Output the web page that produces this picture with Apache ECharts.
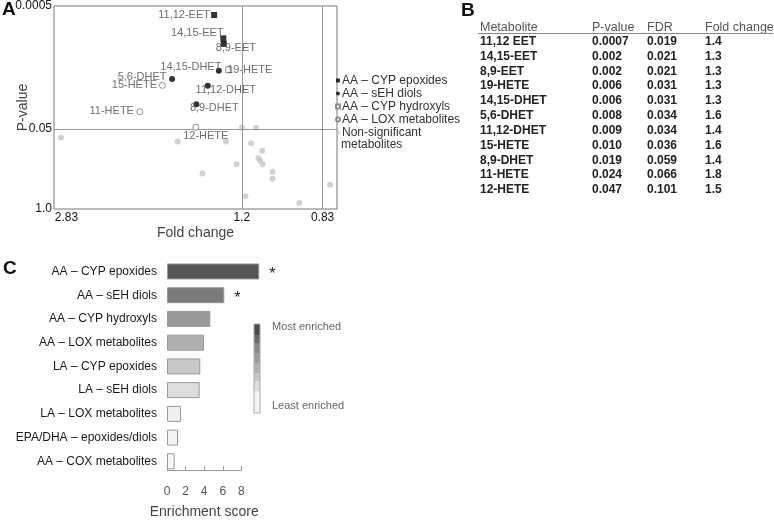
<!DOCTYPE html>
<html>
<head>
<meta charset="utf-8">
<script src="https://cdn.jsdelivr.net/npm/echarts@6/dist/echarts.min.js"></script>
<style>
  html, body { margin: 0; padding: 0; background: #fff; }
  #chart { width: 774px; height: 520px; }
</style>
</head>
<body>
<div id="chart"></div>
<script>
// ---- panel A data (fold change, p-value) ----
var epoxNames = ['11,12-EET', '14,15-EET', '8,9-EET'];
var epoxFold = [1.362, 1.306, 1.303];
var epoxP = [0.0007, 0.00168, 0.00207];

var diolNames = ['14,15-DHET', '5,6-DHET', '11,12-DHET', '8,9-DHET'];
var diolFold = [1.333, 1.650, 1.402, 1.477];
var diolP = [0.00565, 0.0077, 0.00986, 0.0198];

var hydroxNames = ['19-HETE'];
var hydroxFold = [1.274];
var hydroxP = [0.00545];

var loxNames = ['15-HETE', '11-HETE', '12-HETE'];
var loxFold = [1.725, 1.913, 1.481];
var loxP = [0.00975, 0.0263, 0.047];

var nsFold = [2.741, 1.608, 1.290, 1.199, 1.124, 1.150, 1.093, 1.112, 1.104, 1.091, 1.229, 1.043, 1.043, 1.437, 1.181, 0.923, 0.802];
var nsP = [0.069, 0.0797, 0.0797, 0.0476, 0.0476, 0.0851, 0.113, 0.149, 0.164, 0.187, 0.187, 0.249, 0.323, 0.264, 0.618, 0.796, 0.403];

var pCutoff = [0.05];
var foldCutoffs = [1.2, 0.83];
var foldTicks = [2.83, 1.2, 0.83];
var foldTickLabels = ['2.83', '1.2', '0.83'];
var pTicks = [0.0005, 0.05, 1.0];
var pTickLabels = ['0.0005', '0.05', '1.0'];

// ---- panel B table ----
var tblHead = ['Metabolite', 'P-value', 'FDR', 'Fold change'];
var tblMetabolite = ['11,12 EET', '14,15-EET', '8,9-EET', '19-HETE', '14,15-DHET', '5,6-DHET', '11,12-DHET', '15-HETE', '8,9-DHET', '11-HETE', '12-HETE'];
var tblP = ['0.0007', '0.002', '0.002', '0.006', '0.006', '0.008', '0.009', '0.010', '0.019', '0.024', '0.047'];
var tblFDR = ['0.019', '0.021', '0.021', '0.031', '0.031', '0.034', '0.034', '0.036', '0.059', '0.066', '0.101'];
var tblFC = ['1.4', '1.3', '1.3', '1.3', '1.3', '1.6', '1.4', '1.6', '1.4', '1.8', '1.5'];

// ---- panel C data ----
var enrichCats = ['AA \u2013 CYP epoxides', 'AA \u2013 sEH diols', 'AA \u2013 CYP hydroxyls', 'AA \u2013 LOX metabolites',
  'LA \u2013 CYP epoxides', 'LA \u2013 sEH diols', 'LA \u2013 LOX metabolites', 'EPA/DHA \u2013 epoxides/diols', 'AA \u2013 COX metabolites'];
var enrichScore = [9.92, 6.16, 4.66, 3.98, 3.58, 3.51, 1.5, 1.18, 0.82];
var enrichSig = [true, true, false, false, false, false, false, false, false];
var enrichTicks = [0, 2, 4, 6, 8];

// styles (kept apart from data)
var barShades = ['#555555', '#7b7b7b', '#999999', '#b0b0b0', '#c8c8c8', '#dcdcdc', '#efefef', '#f3f3f3', '#f7f7f7'];
var scaleShades = ['#4a4a4a', '#6a6a6a', '#888888', '#9c9c9c', '#b0b0b0', '#c4c4c4', '#dedede', '#f4f4f4'];
var scaleHeights = [11, 8, 10, 10, 10, 8, 10, 22];
var labelOffsets = {
  '11,12-EET': [-30, 0], '14,15-EET': [-26, -5], '8,9-EET': [12, 4], '19-HETE': [21, 0],
  '14,15-DHET': [-28, -4], '5,6-DHET': [-30, -2], '11,12-DHET': [18, 4], '8,9-DHET': [18, 4],
  '15-HETE': [-28, 0], '11-HETE': [-28, -1], '12-HETE': [10, 9]
};

var FONT = 'Liberation Sans, Arial, sans-serif';
var NS_NAME = 'Non-significant metabolites';
function lx(fc) { return Math.log2(fc); }
function ly(p) { return -Math.log10(p); }

function pts(names, folds, ps) {
  var out = [];
  for (var i = 0; i < folds.length; i++) {
    var item = { value: [lx(folds[i]), ly(ps[i])] };
    if (names) {
      item.name = names[i];
      item.label = {
        show: true, position: 'inside', offset: labelOffsets[names[i]],
        formatter: '{b}', color: '#4a4a4a', fontSize: 11, fontFamily: FONT
      };
    }
    out.push(item);
  }
  return out;
}

function nearestLabel(v, ticks, labels, fn) {
  for (var i = 0; i < ticks.length; i++) {
    if (Math.abs(fn(ticks[i]) - v) < 1e-6) return labels[i];
  }
  return '';
}

// panel letters, table and colour key as graphic
var graphics = [];
var colX = [480, 592, 647, 705];
graphics.push({ type: 'text', left: 2, top: 0, style: { text: 'A', font: 'bold 19px ' + FONT, fill: '#111' } });
graphics.push({ type: 'text', left: 461, top: 1, style: { text: 'B', font: 'bold 19px ' + FONT, fill: '#111' } });
graphics.push({ type: 'text', left: 3, top: 259, style: { text: 'C', font: 'bold 19px ' + FONT, fill: '#111' } });
graphics.push({ type: 'text', x: 341, y: 145, style: { text: 'metabolites', font: '12px ' + FONT, fill: '#333', verticalAlign: 'middle' } });
for (var h = 0; h < tblHead.length; h++) {
  graphics.push({ type: 'text', x: colX[h], y: 28,
    style: { text: tblHead[h], font: '12.5px ' + FONT, fill: '#555', verticalAlign: 'middle' } });
}
graphics.push({ type: 'line', shape: { x1: 478, y1: 33.5, x2: 773, y2: 33.5 }, style: { stroke: '#888', lineWidth: 1 } });
for (var r = 0; r < tblMetabolite.length; r++) {
  var cells = [tblMetabolite[r], tblP[r], tblFDR[r], tblFC[r]];
  for (var c = 0; c < cells.length; c++) {
    graphics.push({ type: 'text', x: colX[c], y: 41.5 + r * 14.85,
      style: { text: cells[c], font: 'bold 12px ' + FONT, fill: '#222', verticalAlign: 'middle' } });
  }
}
var sy = 324;
for (var s = 0; s < scaleShades.length; s++) {
  graphics.push({ type: 'rect', shape: { x: 254, y: sy, width: 6, height: scaleHeights[s] },
    style: { fill: scaleShades[s] } });
  sy += scaleHeights[s];
}
graphics.push({ type: 'rect', shape: { x: 254, y: 324, width: 6, height: sy - 324 },
  style: { fill: 'none', stroke: '#aaa', lineWidth: 1 } });
graphics.push({ type: 'text', x: 272, y: 327, style: { text: 'Most enriched', font: '11px ' + FONT, fill: '#666', verticalAlign: 'middle' } });
graphics.push({ type: 'text', x: 272, y: 406, style: { text: 'Least enriched', font: '11px ' + FONT, fill: '#666', verticalAlign: 'middle' } });

var chart = echarts.init(document.getElementById('chart'));
chart.setOption({
  animation: false,
  textStyle: { fontFamily: FONT },
  graphic: graphics,
  legend: {
    orient: 'vertical', left: 330, top: 69,
    itemWidth: 4, itemHeight: 4, itemGap: 0,
    textStyle: { fontSize: 12, color: '#333', lineHeight: 13, fontFamily: FONT, padding: [0, 0, 0, -3] },
    formatter: function (name) { return name === NS_NAME ? 'Non-significant' : name; },
    data: ['AA \u2013 CYP epoxides', 'AA \u2013 sEH diols', 'AA \u2013 CYP hydroxyls', 'AA \u2013 LOX metabolites', NS_NAME]
  },
  grid: [
    { left: 54, top: 5, width: 283, height: 204, show: true, borderColor: '#777', borderWidth: 1, backgroundColor: 'transparent' },
    { left: 167, top: 259.6, width: 93, height: 213.6 },
    { left: 167, top: 259.6, width: 74.4, height: 213.6 }
  ],
  xAxis: [
    {
      gridIndex: 0, type: 'value', inverse: true,
      min: lx(0.777), max: lx(2.83),
      axisLine: { show: false }, axisTick: { show: false }, splitLine: { show: false },
      axisLabel: {
        customValues: foldTicks.map(lx), margin: 3, fontSize: 12, color: '#111',
        formatter: function (v) {
          var t = nearestLabel(v, foldTicks, foldTickLabels, lx);
          return t === '2.83' ? '{edge|' + t + '}' : t;
        },
        rich: { edge: { fontSize: 12, color: '#111', padding: [0, 0, 0, 25] } }
      },
      name: 'Fold change', nameLocation: 'middle', nameGap: 17,
      nameTextStyle: { fontSize: 14, color: '#444' }
    },
    { gridIndex: 1, type: 'value', min: 0, max: 10, show: false },
    {
      gridIndex: 2, type: 'value', min: 0, max: 8, interval: 2, offset: 6,
      axisLine: { show: true, lineStyle: { color: '#999' } },
      axisTick: { show: true, inside: true, length: 4, lineStyle: { color: '#999' } },
      splitLine: { show: false },
      axisLabel: { customValues: enrichTicks, fontSize: 12, color: '#555', margin: 10 },
      name: 'Enrichment score', nameLocation: 'middle', nameGap: 29,
      nameTextStyle: { fontSize: 14, color: '#444' }
    }
  ],
  yAxis: [
    {
      gridIndex: 0, type: 'value', min: 0, max: ly(0.0005),
      axisLine: { show: false }, axisTick: { show: false }, splitLine: { show: false },
      axisLabel: {
        customValues: pTicks.map(ly), margin: 2, fontSize: 12, color: '#111',
        formatter: function (v) { return nearestLabel(v, pTicks, pTickLabels, ly); }
      },
      name: 'P-value', nameLocation: 'middle', nameGap: 24, nameRotate: 90, nameMoveOverlap: false,
      nameTextStyle: { fontSize: 14, color: '#444' }
    },
    {
      gridIndex: 1, type: 'category', inverse: true, data: enrichCats,
      axisLine: { show: false }, axisTick: { show: false },
      axisLabel: { fontSize: 12, color: '#1a1a1a', margin: 10 }
    },
    { gridIndex: 2, type: 'value', show: false }
  ],
  series: [
    {
      name: 'AA \u2013 CYP epoxides', type: 'scatter', xAxisIndex: 0, yAxisIndex: 0,
      symbol: 'rect', symbolSize: 6, itemStyle: { color: '#000' }, z: 5,
      data: pts(epoxNames, epoxFold, epoxP)
    },
    {
      name: 'AA \u2013 sEH diols', type: 'scatter', xAxisIndex: 0, yAxisIndex: 0,
      symbol: 'circle', symbolSize: 6, itemStyle: { color: '#000' }, z: 5,
      data: pts(diolNames, diolFold, diolP)
    },
    {
      name: 'AA \u2013 CYP hydroxyls', type: 'scatter', xAxisIndex: 0, yAxisIndex: 0,
      symbol: 'rect', symbolSize: 6, itemStyle: { color: '#fff', borderColor: '#777', borderWidth: 1 }, z: 5,
      data: pts(hydroxNames, hydroxFold, hydroxP)
    },
    {
      name: 'AA \u2013 LOX metabolites', type: 'scatter', xAxisIndex: 0, yAxisIndex: 0,
      symbol: 'circle', symbolSize: 6, itemStyle: { color: '#fff', borderColor: '#777', borderWidth: 1 }, z: 5,
      data: pts(loxNames, loxFold, loxP)
    },
    {
      name: NS_NAME, type: 'scatter', xAxisIndex: 0, yAxisIndex: 0,
      symbol: 'circle', symbolSize: 6, itemStyle: { color: '#c6c6c6' }, z: 4,
      data: pts(null, nsFold, nsP),
      markLine: {
        silent: true, symbol: 'none', label: { show: false },
        lineStyle: { color: '#999', type: 'solid', width: 1 },
        data: pCutoff.map(function (p) { return { yAxis: ly(p) }; })
          .concat(foldCutoffs.map(function (f) { return { xAxis: lx(f) }; }))
      }
    },
    {
      type: 'bar', xAxisIndex: 1, yAxisIndex: 1, barWidth: 16,
      data: enrichScore.map(function (v, i) {
        return {
          value: v,
          itemStyle: { color: barShades[i], borderColor: '#999', borderWidth: 1 },
          label: { show: enrichSig[i] }
        };
      }),
      label: {
        position: 'right', distance: 10, formatter: '*', fontSize: 16, color: '#222', offset: [0, 3]
      }
    }
  ]
});
</script>
</body>
</html>
